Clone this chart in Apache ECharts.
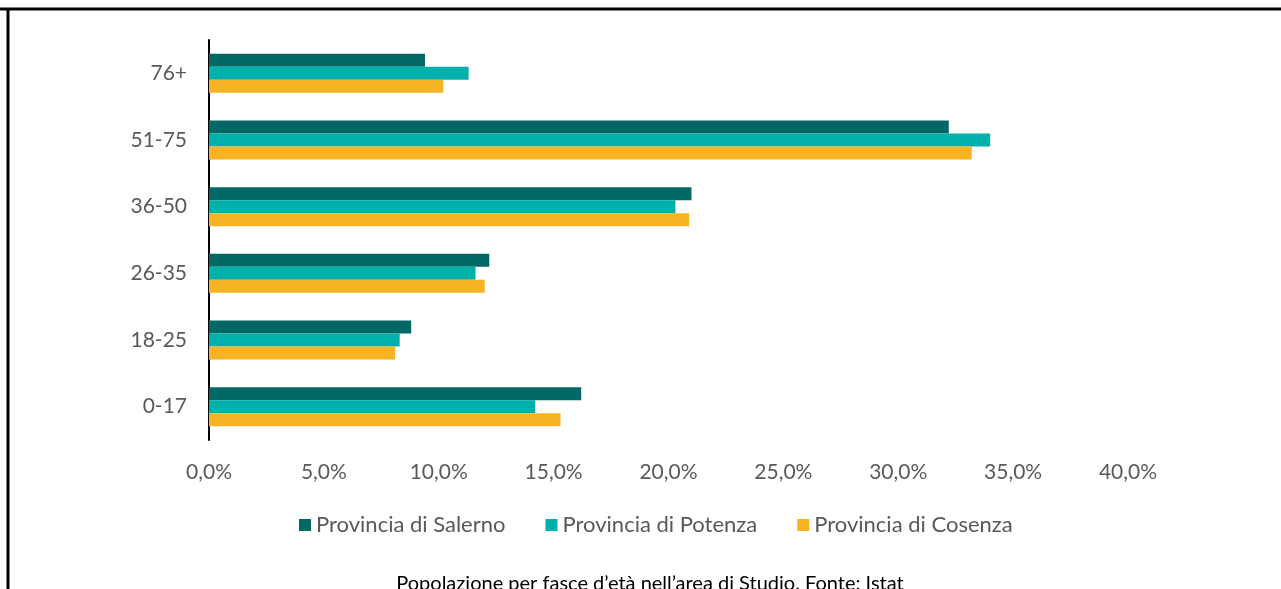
<!DOCTYPE html>
<html>
<head>
<meta charset="utf-8">
<script src="https://cdn.jsdelivr.net/npm/echarts@6/dist/echarts.min.js"></script>
<style>
  html, body { margin: 0; padding: 0; background: #fff; }
  #frame { position: absolute; left: 0; top: 0; width: 1281px; height: 589px; overflow: hidden; }
  #chart { position: absolute; left: 0; top: 0; width: 1281px; height: 589px; }
</style>
</head>
<body>
<div id="frame"><div id="chart"></div></div>
<script>
// Age groups, bottom to top as drawn on the category axis
const ageGroups = ['0-17', '18-25', '26-35', '36-50', '51-75', '76+'];

// Share of population per age group (%)
const salerno = [16.2, 8.8, 12.2, 21.0, 32.2, 9.4];
const potenza = [14.2, 8.3, 11.6, 20.3, 34.0, 11.3];
const cosenza = [15.3, 8.1, 12.0, 20.9, 33.2, 10.2];

const seriesNames = ['Provincia di Salerno', 'Provincia di Potenza', 'Provincia di Cosenza'];
const seriesColors = ['#026866', '#00B1AB', '#F8B325'];
const caption = 'Popolazione per fasce d\u2019età nell\u2019area di Studio. Fonte: Istat';

const chart = echarts.init(document.getElementById('chart'), null, { renderer: 'canvas' });

const textGray = '#595959';
const font = 'Lato, "Open Sans", sans-serif';

const values = [salerno, potenza, cosenza];

chart.setOption({
  animation: false,
  backgroundColor: '#ffffff',
  textStyle: { fontFamily: font },
  grid: { left: 209, right: 153, top: 40, bottom: 149, containLabel: false },
  legend: {
    data: seriesNames,
    bottom: 48,
    left: 294,
    itemWidth: 12,
    itemHeight: 12,
    itemGap: 40,
    icon: 'rect',
    textStyle: { color: textGray, fontSize: 22, fontFamily: font }
  },
  xAxis: {
    type: 'value',
    min: 0,
    max: 40,
    interval: 5,
    axisLine: { show: false },
    axisTick: { show: false },
    splitLine: { show: false },
    axisLabel: {
      color: textGray,
      fontSize: 21,
      margin: 22,
      formatter: v => v.toFixed(1).replace('.', ',') + '%'
    }
  },
  yAxis: {
    type: 'category',
    data: ageGroups,
    axisLine: { show: true, lineStyle: { color: '#000', width: 2 } },
    axisTick: { show: false },
    axisLabel: { color: textGray, fontSize: 21, margin: 22 }
  },
  graphic: [
    { type: 'line', shape: { x1: 0, y1: 9, x2: 1281, y2: 9 }, style: { stroke: '#000', lineWidth: 3 } },
    { type: 'line', shape: { x1: 8, y1: 8, x2: 8, y2: 589 }, style: { stroke: '#000', lineWidth: 3 } },
    {
      type: 'text',
      style: {
        text: caption, fill: '#000', font: '20px ' + font,
        x: 650, y: 584, textAlign: 'center', textVerticalAlign: 'middle'
      }
    }
  ],
  series: seriesNames.map((name, i) => ({
    name: name,
    type: 'bar',
    data: values[i],
    barWidth: 13,
    barGap: '0%',
    itemStyle: { color: seriesColors[i] }
  }))
});
</script>
</body>
</html>
